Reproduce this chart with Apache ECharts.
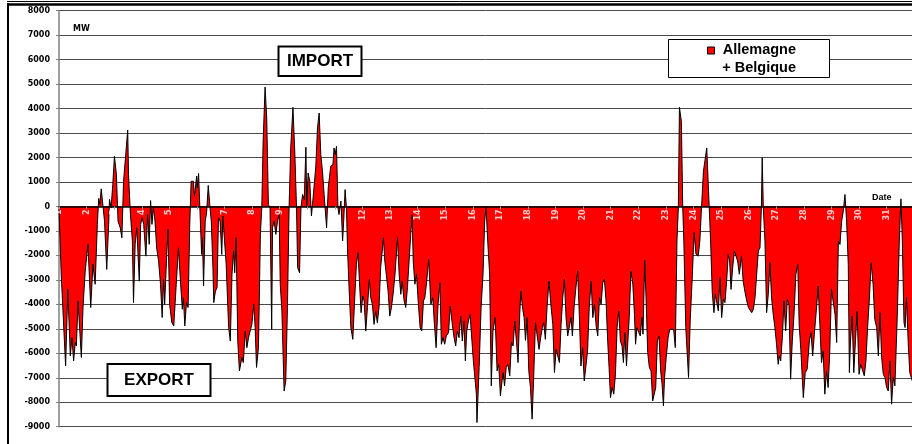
<!DOCTYPE html>
<html>
<head>
<meta charset="utf-8">
<script src="https://cdn.jsdelivr.net/npm/echarts@6/dist/echarts.min.js"></script>
<style>
  html, body { margin: 0; padding: 0; background: #fff; }
  #chart { width: 912px; height: 444px; }
</style>
</head>
<body>
<div id="chart"></div>
<script>
// [day of month, MW]  (>0 import, <0 export)
const week1 = [[1.00,-100],[1.08,-2770],[1.24,-6520],[1.32,-3390],[1.41,-6110],[1.47,-5360],[1.53,-6310],[1.59,-5560],[1.63,-5700],[1.69,-3860],[1.75,-3860],[1.81,-6170],[1.87,-4130],[1.95,-2640],[2.05,-1550],[2.15,-4130],[2.23,-2370],[2.31,-3180],[2.39,-730],[2.44,330],[2.48,80],[2.53,720],[2.59,690],[2.65,-600],[2.73,-2570],[2.80,-730],[2.83,290],[2.89,-50],[2.95,900],[3.01,2050],[3.08,1310],[3.14,-600],[3.22,-870],[3.28,-1280],[3.34,1030],[3.41,1990],[3.49,3120],[3.52,1310],[3.59,-330],[3.66,-1410],[3.70,-3930],[3.76,-1550],[3.82,-870],[3.91,-3050],[3.96,-730],[4.01,-460],[4.07,-730],[4.15,-2030],[4.21,-330],[4.27,-1550],[4.32,240],[4.37,-730],[4.42,-50],[4.48,-600],[4.54,-1690],[4.61,-2230],[4.68,-3180],[4.74,-4540],[4.79,-2980],[4.83,-4000],[4.90,-2090],[4.95,-940],[5.01,-4000],[5.09,-4750],[5.16,-4880],[5.25,-3180],[5.33,-1690],[5.41,-3180],[5.47,-4200],[5.51,-3730],[5.56,-4880],[5.62,-3930],[5.68,-4130],[5.74,-730],[5.79,1030],[5.87,1030],[5.91,420],[5.99,1240],[6.01,760],[6.06,1350],[6.11,-190],[6.17,-1960],[6.20,-1280],[6.24,-3250],[6.30,-600],[6.35,-260],[6.41,860],[6.47,10],[6.52,-600],[6.58,-2500],[6.61,-3930],[6.67,-3460],[6.73,-3320],[6.78,-460],[6.84,-600],[6.90,-1960],[6.94,-390],[7.00,-390],[7.06,-2370],[7.15,-4950],[7.21,-5500],[7.27,-2770],[7.33,-1820],[7.37,-2710],[7.42,-1280],[7.48,-5500],[7.54,-6720],[7.63,-6170],[7.68,-6380],[7.75,-5090],[7.81,-5770],[7.87,-5360],[7.93,-5090],[7.99,-4820],[8.06,-4000],[8.11,-4950],[8.16,-6580],[8.23,-5770],[8.30,-1140],[8.35,-50],[8.40,2670],[8.47,4880],[8.53,3620],[8.59,80],[8.65,-50],[8.71,-5020]];

const week2 = [[8.74,-870],[8.80,-600],[8.86,-1140],[8.92,-600],[8.98,-330],[9.02,-3180],[9.08,-4270],[9.16,-7540],[9.22,-7130],[9.28,-4130],[9.34,-50],[9.40,2390],[9.48,4050],[9.55,2120],[9.61,-50],[9.65,-2500],[9.72,-2710],[9.77,-50],[9.83,490],[9.89,290],[9.95,2420],[9.98,-50],[10.03,1370],[10.09,1030],[10.15,-390],[10.21,350],[10.31,1650],[10.37,3210],[10.43,3820],[10.49,2120],[10.55,1440],[10.61,490],[10.70,-870],[10.76,760],[10.80,760],[10.85,1650],[10.93,1710],[10.97,2390],[11.01,2120],[11.06,2460],[11.11,-50],[11.15,-330],[11.22,220],[11.28,-1410],[11.32,-600],[11.37,690],[11.42,-50],[11.46,-1820],[11.52,-3460],[11.58,-4950],[11.65,-5430],[11.72,-3730],[11.78,-2370],[11.84,-1890],[11.89,-3050],[11.95,-4340],[12.01,-3660],[12.06,-3860],[12.12,-5090],[12.18,-4130],[12.25,-2980],[12.30,-3730],[12.36,-4000],[12.42,-4820],[12.48,-4270],[12.54,-4750],[12.60,-4130],[12.66,-2500],[12.76,-1280],[12.81,-2230],[12.87,-2840],[12.93,-3460],[12.99,-4480],[13.05,-4130],[13.11,-3590],[13.18,-2770],[13.27,-1280],[13.33,-2770],[13.39,-3590],[13.44,-3050],[13.51,-3860],[13.57,-4130],[13.63,-3320],[13.69,-2230],[13.75,-1140],[13.80,-330],[13.84,-2230],[13.90,-3180],[13.96,-2770],[14.02,-3860],[14.09,-4950],[14.15,-5090],[14.21,-3860],[14.26,-3730],[14.33,-3050],[14.40,-2160],[14.48,-4000],[14.55,-3730],[14.60,-4680],[14.67,-5770],[14.74,-4000],[14.81,-3120],[14.86,-5630],[14.92,-5360],[14.98,-5630],[15.04,-5290],[15.12,-5160],[15.18,-4070],[15.25,-4750],[15.32,-5360],[15.38,-5700],[15.44,-5090],[15.50,-5360],[15.56,-4480],[15.62,-5500],[15.68,-4680],[15.73,-6310],[15.78,-5090],[15.84,-4680],[15.90,-4410],[15.95,-4340],[16.02,-6310],[16.07,-6310],[16.13,-7670],[16.15,-8830],[16.23,-6580],[16.30,-4130],[16.37,-2770],[16.43,-600]];

const week3 = [[16.48,-30],[16.54,-1410],[16.61,-2770],[16.67,-7330],[16.73,-5090],[16.81,-4540],[16.88,-6720],[16.94,-6450],[17.00,-7740],[17.06,-7130],[17.10,-6790],[17.15,-7330],[17.21,-6580],[17.27,-6450],[17.34,-6920],[17.40,-5560],[17.46,-5700],[17.52,-4680],[17.58,-5500],[17.64,-6380],[17.69,-4680],[17.74,-3460],[17.81,-4200],[17.86,-4540],[17.91,-5470],[17.97,-4540],[18.03,-6720],[18.09,-7400],[18.15,-8690],[18.21,-6860],[18.27,-4750],[18.33,-4680],[18.40,-5840],[18.46,-5360],[18.52,-4950],[18.57,-4750],[18.63,-5430],[18.69,-4130],[18.76,-3050],[18.84,-4130],[18.90,-4820],[18.96,-6790],[19.02,-5840],[19.08,-6110],[19.14,-6380],[19.20,-4820],[19.26,-3730],[19.32,-2980],[19.38,-4540],[19.44,-5290],[19.50,-5290],[19.56,-4540],[19.61,-5290],[19.67,-4130],[19.73,-3390],[19.80,-2640],[19.86,-4410],[19.92,-6520],[19.98,-5770],[20.04,-7130],[20.10,-6520],[20.16,-5900],[20.22,-4130],[20.29,-3050],[20.35,-4540],[20.41,-4000],[20.47,-4880],[20.53,-5290],[20.59,-3730],[20.65,-4000],[20.71,-3120],[20.77,-2980],[20.83,-3860],[20.89,-5500],[20.94,-6580],[20.99,-7810],[21.05,-7400],[21.11,-7670],[21.17,-6860],[21.23,-4950],[21.29,-4270],[21.35,-5500],[21.41,-5700],[21.46,-6380],[21.51,-5160],[21.57,-6520],[21.61,-6520],[21.67,-4540],[21.73,-2640],[21.80,-3180],[21.86,-4410],[21.90,-5630],[21.95,-4950],[22.01,-4880],[22.07,-5290],[22.13,-4540],[22.17,-5220],[22.23,-2200],[22.28,-3730],[22.34,-5970],[22.40,-6580],[22.46,-6720],[22.52,-7950],[22.57,-8010],[22.63,-7400],[22.69,-5500],[22.75,-5290],[22.81,-6720],[22.86,-7260],[22.91,-8150],[22.95,-6990],[23.01,-6170],[23.08,-5360],[23.14,-5020],[23.21,-4950],[23.28,-5020],[23.34,-5770],[23.40,-1410],[23.45,-50],[23.49,4050],[23.56,3480],[23.61,-50],[23.65,-1410],[23.72,-4950],[23.76,-4950],[23.82,-6990],[23.88,-4680],[23.96,-2770],[24.02,-1070],[24.09,-1960],[24.15,-1960]];

const week4 = [[24.17,-2030],[24.23,-1410],[24.29,-50],[24.36,1440],[24.42,1510],[24.48,2390],[24.51,2460],[24.57,-50],[24.62,-1410],[24.68,-3520],[24.74,-4340],[24.79,-3590],[24.84,-3660],[24.90,-4270],[24.96,-2910],[25.02,-4540],[25.08,-3790],[25.14,-3930],[25.20,-3050],[25.26,-1960],[25.31,-2230],[25.36,-3390],[25.42,-2500],[25.48,-1820],[25.54,-2030],[25.60,-2230],[25.66,-2770],[25.74,-2030],[25.80,-3050],[25.86,-3460],[25.93,-3860],[25.99,-4130],[26.05,-4200],[26.11,-4340],[26.17,-4200],[26.23,-3730],[26.29,-2770],[26.35,-1820],[26.41,-1690],[26.46,-50],[26.49,1990],[26.53,-50],[26.59,-1410],[26.65,-4340],[26.71,-3590],[26.77,-2300],[26.83,-3730],[26.89,-4410],[26.95,-4950],[27.01,-5630],[27.07,-6450],[27.11,-6110],[27.16,-6310],[27.22,-5360],[27.28,-3860],[27.34,-5090],[27.40,-3790],[27.46,-4000],[27.52,-7060],[27.58,-5500],[27.64,-4480],[27.71,-2770],[27.78,-2370],[27.83,-4820],[27.89,-5840],[27.98,-7810],[28.05,-6790],[28.12,-6650],[28.20,-5500],[28.26,-5160],[28.32,-6110],[28.38,-5220],[28.44,-4410],[28.52,-3250],[28.58,-4820],[28.64,-6380],[28.70,-5900],[28.76,-7670],[28.82,-6720],[28.88,-7400],[28.94,-5900],[29.00,-3390],[29.07,-3390],[29.13,-4410],[29.19,-5560],[29.25,-1410],[29.31,-1550],[29.37,-600],[29.43,-190],[29.49,490],[29.55,-600],[29.61,-2370],[29.65,-6790],[29.69,-5500],[29.75,-4480],[29.81,-6790],[29.87,-5500],[29.93,-4270],[30.00,-6860],[30.06,-6450],[30.13,-6520],[30.19,-6920],[30.25,-6310],[30.31,-4950],[30.37,-3860],[30.44,-2300],[30.51,-3180],[30.57,-4610],[30.64,-4950],[30.70,-6110],[30.76,-4340],[30.82,-6170],[30.88,-6860],[30.94,-6990],[31.00,-7400],[31.06,-7540],[31.12,-6310],[31.18,-8080],[31.24,-6990],[31.30,-7330],[31.38,-4680],[31.46,-1410],[31.52,310],[31.57,-1410],[31.63,-4750],[31.67,-4950],[31.72,-3730],[31.78,-5500],[31.84,-6790],[31.89,-6860],[31.95,-7200]];

const dayLabels = ['1','2','3','4','5','6','7','8','9','10','11','12','13','14','15','16',
  '17','18','19','20','21','22','23','24','25','26','27','28','29','30','31'];
const seriesName = 'Allemagne\n+ Belgique';

const small = 'DejaVu Sans';
const big = 'Liberation Sans, Arial, sans-serif';

const chart = echarts.init(document.getElementById('chart'), null, { renderer: 'canvas' });

chart.setOption({
  animation: false,
  backgroundColor: '#fff',
  grid: { left: 59, right: 0, top: 10.7, bottom: 17.3, containLabel: false },
  xAxis: {
    type: 'value',
    min: 1,
    max: 31.92,
    interval: 1,
    z: 10,
    axisLine: { onZero: true, lineStyle: { color: '#000', width: 1.5 } },
    axisTick: { show: true, length: 3, lineStyle: { color: '#999', width: 1 } },
    // v6 keeps value-axis labels at the grid edge, so day numbers are drawn
    // by the scatter series below, sitting on the zero line
    axisLabel: { show: false },
    splitLine: { show: false }
  },
  yAxis: {
    type: 'value',
    min: -9000,
    max: 8000,
    interval: 1000,
    axisLine: { show: true, lineStyle: { color: '#808080', width: 1.5 } },
    axisTick: { show: true, length: 3, lineStyle: { color: '#808080' } },
    axisLabel: {
      margin: 9,
      color: '#000',
      fontFamily: small,
      fontWeight: 'bold',
      fontSize: 8,
      formatter: v => String(v)
    },
    splitLine: { lineStyle: { color: '#4a4a4a', width: 1 } }
  },
  series: [{
    name: seriesName,
    type: 'line',
    data: week1.concat(week2, week3, week4),
    showSymbol: false,
    symbol: 'none',
    lineStyle: { color: '#000', width: 1 },
    areaStyle: { color: '#ff0000', opacity: 1 },
    z: 2
  }, {
    type: 'scatter',
    silent: true,
    symbolSize: 0,
    z: 12,
    data: dayLabels.map((d, i) => [i + 1, 0]),
    label: {
      show: true,
      position: 'bottom',
      distance: 3,
      rotate: 90,
      align: 'right',
      verticalAlign: 'middle',
      color: '#fff',
      fontFamily: small,
      fontWeight: 'bold',
      fontSize: 8,
      formatter: p => dayLabels[p.dataIndex]
    }
  }],
  graphic: [
    // frame of the original sheet
    { type: 'line', shape: { x1: 7, y1: 1.5, x2: 912, y2: 1.5 }, style: { stroke: '#000', lineWidth: 1 }, z: 100 },
    { type: 'line', shape: { x1: 7, y1: 4.5, x2: 912, y2: 4.5 }, style: { stroke: '#000', lineWidth: 2.5 }, z: 100 },
    { type: 'line', shape: { x1: 8, y1: 3, x2: 8, y2: 444 }, style: { stroke: '#000', lineWidth: 2 }, z: 100 },
    { type: 'text', left: 26, top: -6, style: { text: '10000', font: 'bold 8px ' + small, fill: '#000' }, z: 99 },
    // unit and axis name
    { type: 'text', left: 73, top: 25, style: { text: 'MW', font: 'bold 8px ' + small, fill: '#000' }, z: 100 },
    { type: 'text', left: 872, top: 193, style: { text: 'Date', font: 'bold 9px ' + big, fill: '#000' }, z: 100 },
    // IMPORT box
    { type: 'rect', shape: { x: 278.5, y: 46.5, width: 83, height: 29.5 }, style: { fill: '#fff', stroke: '#000', lineWidth: 2 }, z: 100 },
    { type: 'text', x: 320, y: 61.5, style: { text: 'IMPORT', font: 'bold 17px ' + big, fill: '#000', align: 'center', verticalAlign: 'middle' }, z: 101 },
    // EXPORT box
    { type: 'rect', shape: { x: 107.5, y: 364, width: 103, height: 32 }, style: { fill: '#fff', stroke: '#000', lineWidth: 2 }, z: 100 },
    { type: 'text', x: 159, y: 380.5, style: { text: 'EXPORT', font: 'bold 17px ' + big, fill: '#000', align: 'center', verticalAlign: 'middle' }, z: 101 },
    // legend
    { type: 'rect', shape: { x: 668.5, y: 39.5, width: 161, height: 38 }, style: { fill: '#fff', stroke: '#000', lineWidth: 1 }, z: 100 },
    { type: 'rect', shape: { x: 707.5, y: 47, width: 7, height: 7 }, style: { fill: '#ff0000', stroke: '#000', lineWidth: 1 }, z: 101 },
    { type: 'text', x: 796, y: 50, style: { text: seriesName.split('\n')[0], font: 'bold 14.5px ' + big, fill: '#000', align: 'right', verticalAlign: 'middle' }, z: 101 },
    { type: 'text', x: 796, y: 67.5, style: { text: seriesName.split('\n')[1], font: 'bold 14.5px ' + big, fill: '#000', align: 'right', verticalAlign: 'middle' }, z: 101 }
  ]
});
</script>
</body>
</html>
